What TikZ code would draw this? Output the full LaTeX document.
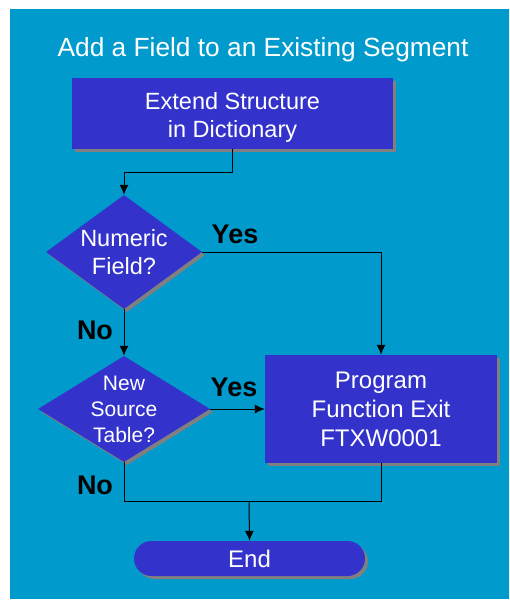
\documentclass[tikz,border=0pt]{standalone}
\usepackage{fontspec}
\setmainfont{Liberation Sans}
\usepackage{tikz}
\usetikzlibrary{shapes.geometric,shapes.misc,arrows.meta,shadows}
\definecolor{sapbg}{HTML}{009ACD}
\definecolor{sapbox}{HTML}{3333CC}
\definecolor{sapshade}{HTML}{808080}
\tikzstyle{arrow} = [line width=1pt,->,>={Latex[length=10pt,width=9pt]}]
\tikzstyle{line} = [line width=1pt]
\tikzstyle{shade} = [drop shadow={shadow xshift=3pt,shadow yshift=-3pt,fill=sapshade,opacity=1}]
\tikzstyle{process} = [rectangle,fill=sapbox,text=white,align=center,inner sep=0pt,shade]
\tikzstyle{decision} = [diamond,fill=sapbox,inner sep=0pt,shade]
\tikzstyle{terminal} = [rounded rectangle,fill=sapbox,text=white,inner sep=0pt,shade]
\tikzstyle{answer} = [font=\fontsize{27}{30}\selectfont\bfseries]

\begin{document}
\begin{tikzpicture}[x=1pt,y=-1pt]
	\useasboundingbox (0,0) rectangle (509,600);
	\fill[sapbg] (10,9) rectangle (509,599);
	\node (title) [text=white,font=\fontsize{26.3}{30}\selectfont] at (263,49.5) {Add a Field to an Existing Segment};
	\node (extend) [process,minimum width=321pt,minimum height=71pt,
		label={[text=white,align=center,font=\fontsize{23.5}{28}\selectfont,yshift=-3.5pt]center:Extend Structure\\in Dictionary}] at (232.5,113.5) {};
	\node (numeric) [decision,minimum width=156pt,minimum height=114pt,
		label={[text=white,align=center,font=\fontsize{23.5}{28}\selectfont]center:Numeric\\Field?}] at (124,252) {};
	\node (source) [decision,minimum width=172pt,minimum height=106pt,
		label={[text=white,align=center,font=\fontsize{21}{26}\selectfont]center:New\\Source\\Table?}] at (124,409) {};
	\node (exit) [process,minimum width=232pt,minimum height=108pt,font=\fontsize{24}{29}\selectfont] at (381,409) {Program\\Function Exit\\FTXW0001};
	\node (end) [terminal,minimum width=231pt,minimum height=35pt,font=\fontsize{24}{28}\selectfont] at (249.5,558.5) {End};
	\node (yes1) [answer] at (235,234) {Yes};
	\node (no1) [answer] at (95,330) {No};
	\node (yes2) [answer] at (234,387) {Yes};
	\node (no2) [answer] at (95,485) {No};
	\coordinate (merge) at (249,501);
	\draw[arrow] (extend.south) -- ++(0,23) -| (numeric.north);
	\draw[arrow] (numeric.east) -| (exit.north);
	\draw[arrow] (numeric.south) -- (source.north);
	\draw[arrow] (source.east) -- (exit.west);
	\draw[line] (source.south) |- (merge);
	\draw[line] (exit.south) |- (merge);
	\draw[arrow] (merge) -- (end.north);
\end{tikzpicture}
\end{document}
